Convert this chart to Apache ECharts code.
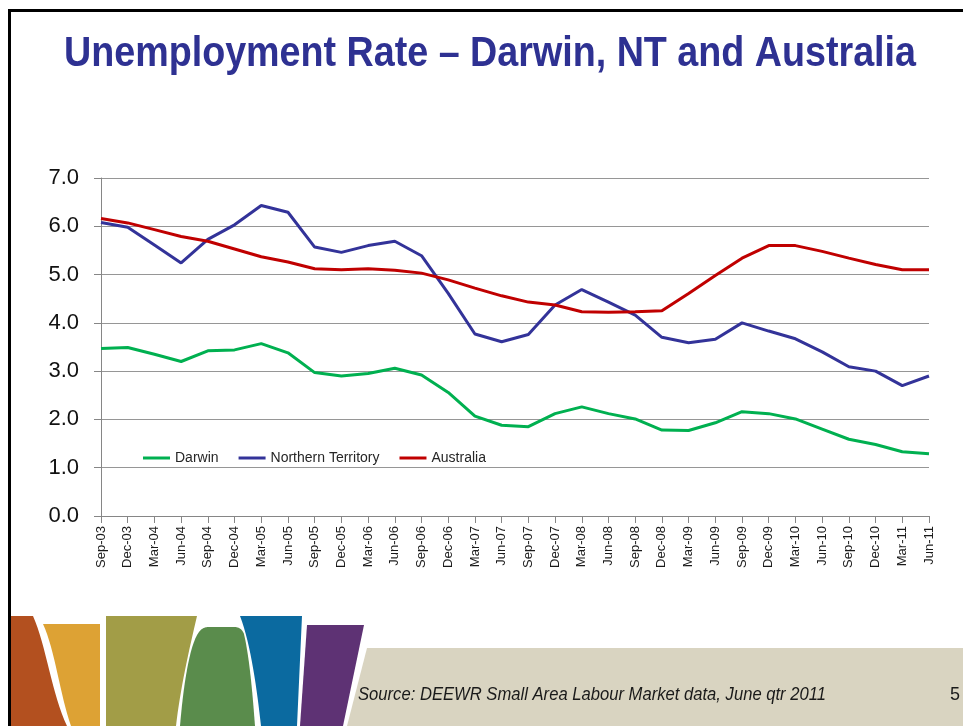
<!DOCTYPE html>
<html>
<head>
<meta charset="utf-8">
<script src="https://cdn.jsdelivr.net/npm/echarts@6/dist/echarts.min.js"></script>
<style>
  html, body { margin: 0; padding: 0; background: #ffffff; }
  #chart { width: 963px; height: 726px; }
</style>
</head>
<body>
<div id="chart"></div>
<script>
// Quarterly unemployment rate (%), Sep-03 to Jun-11
const quarters = [
  'Sep-03','Dec-03','Mar-04','Jun-04','Sep-04','Dec-04','Mar-05','Jun-05',
  'Sep-05','Dec-05','Mar-06','Jun-06','Sep-06','Dec-06','Mar-07','Jun-07',
  'Sep-07','Dec-07','Mar-08','Jun-08','Sep-08','Dec-08','Mar-09','Jun-09',
  'Sep-09','Dec-09','Mar-10','Jun-10','Sep-10','Dec-10','Mar-11','Jun-11'
];

const darwin = [
  3.47, 3.49, 3.35, 3.20, 3.42, 3.44, 3.57, 3.38,
  2.97, 2.90, 2.95, 3.06, 2.92, 2.56, 2.07, 1.88,
  1.85, 2.12, 2.26, 2.12, 2.01, 1.78, 1.77, 1.93,
  2.16, 2.12, 2.01, 1.80, 1.59, 1.48, 1.33, 1.29
];

const northernTerritory = [
  6.08, 5.98, 5.61, 5.24, 5.73, 6.03, 6.43, 6.29,
  5.57, 5.46, 5.60, 5.69, 5.39, 4.61, 3.77, 3.61,
  3.76, 4.37, 4.69, 4.43, 4.16, 3.70, 3.59, 3.66,
  4.00, 3.83, 3.67, 3.40, 3.09, 3.00, 2.70, 2.90
];

const australia = [
  6.16, 6.07, 5.93, 5.79, 5.69, 5.53, 5.37, 5.26,
  5.12, 5.10, 5.12, 5.09, 5.03, 4.89, 4.72, 4.56,
  4.43, 4.37, 4.23, 4.22, 4.23, 4.25, 4.61, 4.98,
  5.34, 5.60, 5.60, 5.48, 5.34, 5.21, 5.10, 5.10
];

const yTicks = { min: 0, max: 7, interval: 1 };

const plain = "'Liberation Sans', Arial, sans-serif";

// Width of a string in a given canvas font, used to squeeze text into a narrow face
const measureCtx = document.createElement('canvas').getContext('2d');
function textWidth(text, font) {
  measureCtx.font = font;
  return measureCtx.measureText(text).width;
}

// Sample a path made of straight and cubic segments into polygon points
function outline(start, segs) {
  const pts = [start.slice()];
  let cur = start.slice();
  segs.forEach(s => {
    if (s.length === 2) {
      pts.push(s.slice());
      cur = s.slice();
    } else {
      const [c1x, c1y, c2x, c2y, ex, ey] = s;
      for (let i = 1; i <= 16; i++) {
        const t = i / 16, u = 1 - t;
        pts.push([
          u*u*u*cur[0] + 3*u*u*t*c1x + 3*u*t*t*c2x + t*t*t*ex,
          u*u*u*cur[1] + 3*u*u*t*c1y + 3*u*t*t*c2y + t*t*t*ey
        ]);
      }
      cur = [ex, ey];
    }
  });
  return pts;
}

// Coloured banner strips along the bottom of the slide
const banner = [
  { pts: outline([10, 616], [[33, 616], [46, 645, 52, 695, 67, 726], [10, 726]]), fill: '#B3501F' },
  { pts: outline([43, 624], [[100, 624], [100, 726], [71, 726], [60, 695, 55, 650, 43, 624]]), fill: '#DDA234' },
  { pts: outline([106, 616], [[197, 616], [189, 650, 180, 690, 176, 726], [106, 726]]), fill: '#A29D47' },
  { pts: outline([180, 726], [[183, 690, 189, 645, 199, 632], [202, 628, 205, 627, 210, 627], [234, 627],
                              [239, 627, 242, 629, 244, 634], [250, 660, 253, 700, 255, 726]]), fill: '#5A8C4C' },
  { pts: outline([240, 616], [[302, 616], [297, 726], [261, 726], [257, 690, 251, 645, 240, 616]]), fill: '#0B6AA0' },
  { pts: outline([307, 625], [[364, 625], [343, 726], [300, 726]]), fill: '#5E3274' },
  { pts: outline([367, 648], [[963, 648], [963, 726], [347, 726]]), fill: '#D9D4C1' }
];

// Heading in a condensed bold face
const titleText = 'Unemployment Rate \u2013 Darwin, NT and Australia';
const titleFont = "bold 42px 'Liberation Sans'";
const titleScale = 852 / textWidth(titleText, titleFont);

const sourceText = 'Source: DEEWR Small Area Labour Market data, June qtr 2011';
const sourceFont = "italic 18px 'Liberation Sans'";
const sourceScale = 468 / textWidth(sourceText, sourceFont);

const chart = echarts.init(document.getElementById('chart'), null, { renderer: 'canvas' });

chart.setOption({
  backgroundColor: '#ffffff',
  animation: false,
  legend: {
    left: 138,
    top: 446,
    icon: 'rect',
    itemWidth: 27,
    itemHeight: 3,
    itemGap: 20,
    textStyle: { fontFamily: plain, fontSize: 14, color: '#262626' },
    data: ['Darwin', 'Northern Territory', 'Australia']
  },
  grid: { left: 101, right: 34, top: 178, bottom: 210, containLabel: false },
  xAxis: {
    type: 'category',
    data: quarters,
    boundaryGap: false,
    axisLine: { lineStyle: { color: '#868686', width: 1 } },
    axisTick: { show: true, length: 7, lineStyle: { color: '#868686' } },
    axisLabel: {
      rotate: 90,
      margin: 10,
      interval: 0,
      fontFamily: plain,
      fontSize: 13,
      color: '#1a1a1a'
    },
    splitLine: { show: false }
  },
  yAxis: {
    type: 'value',
    min: yTicks.min,
    max: yTicks.max,
    interval: yTicks.interval,
    axisLine: { show: true, lineStyle: { color: '#868686', width: 1 } },
    axisTick: { show: true, length: 7, lineStyle: { color: '#868686' } },
    axisLabel: {
      margin: 22,
      fontFamily: plain,
      fontSize: 22,
      color: '#111111',
      formatter: v => v.toFixed(1)
    },
    splitLine: { show: true, lineStyle: { color: '#969696', width: 1 } }
  },
  series: [
    {
      name: 'Darwin', type: 'line', data: darwin,
      showSymbol: false, symbol: 'none',
      lineStyle: { color: '#00B050', width: 3 }, itemStyle: { color: '#00B050' }
    },
    {
      name: 'Northern Territory', type: 'line', data: northernTerritory,
      showSymbol: false, symbol: 'none',
      lineStyle: { color: '#333399', width: 3 }, itemStyle: { color: '#333399' }
    },
    {
      name: 'Australia', type: 'line', data: australia,
      showSymbol: false, symbol: 'none',
      lineStyle: { color: '#C00000', width: 3 }, itemStyle: { color: '#C00000' }
    }
  ],
  graphic: [
    // slide frame (top and left edges)
    { type: 'polyline', silent: true, z: 100,
      shape: { points: [[9.5, 726], [9.5, 10.5], [963, 10.5]] },
      style: { stroke: '#000000', lineWidth: 3, fill: null } },
    ...banner.map(b => ({
      type: 'polygon', silent: true, z: 50,
      shape: { points: b.pts },
      style: { fill: b.fill }
    })),
    { type: 'text', silent: true, z: 60, x: 64, y: 75, scaleX: titleScale,
      style: {
        text: titleText, font: titleFont, fill: '#2E3192',
        align: 'left', verticalAlign: 'bottom'
      } },
    { type: 'text', silent: true, z: 60, x: 358, y: 695, scaleX: sourceScale,
      style: {
        text: sourceText, font: sourceFont, fill: '#1a1a1a',
        align: 'left', verticalAlign: 'middle'
      } },
    { type: 'text', silent: true, z: 60, x: 950, y: 695,
      style: { text: '5', font: "18px 'Liberation Sans'", fill: '#1a1a1a', align: 'left', verticalAlign: 'middle' } }
  ]
});
</script>
</body>
</html>
